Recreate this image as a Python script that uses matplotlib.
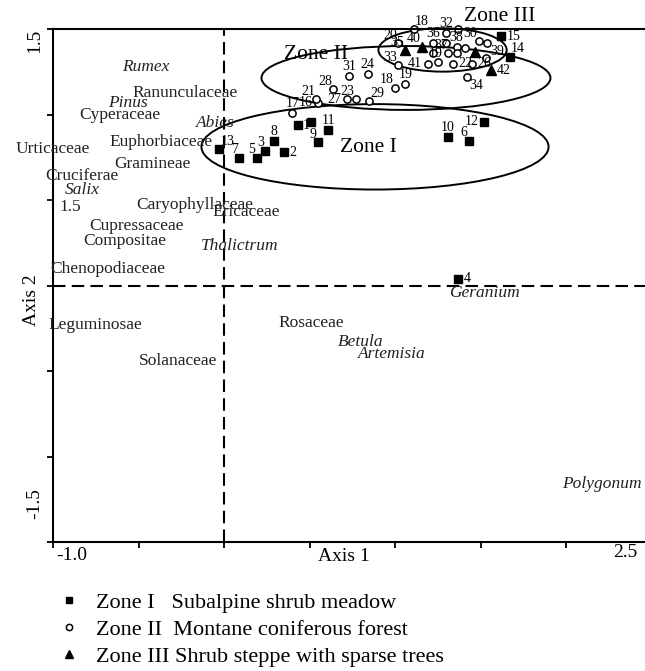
import matplotlib
matplotlib.use('Agg')
import matplotlib.pyplot as plt
from matplotlib.patches import Ellipse
from matplotlib.lines import Line2D

plt.rcParams['font.family'] = ['Liberation Serif', 'DejaVu Serif']

# species scores (Axis 1, Axis 2)
taxa = ['Rumex', 'Ranunculaceae', 'Pinus', 'Cyperaceae', 'Abies', 'Euphorbiaceae',
        'Urticaceae', 'Gramineae', 'Cruciferae', 'Salix', '1.5', 'Caryophyllaceae',
        'Ericaceae', 'Cupressaceae', 'Compositae', 'Thalictrum', 'Chenopodiaceae',
        'Leguminosae', 'Solanaceae', 'Rosaceae', 'Betula', 'Artemisia', 'Geranium',
        'Polygonum']
taxa_x = [-0.46, -0.23, -0.56, -0.61, -0.05, -0.37, -1.00, -0.42, -0.83, -0.83, -0.90,
          -0.17, 0.13, -0.51, -0.58, 0.09, -0.68, -0.75, -0.27, 0.51, 0.80, 0.98,
          1.52, 2.21]
taxa_y = [1.28, 1.13, 1.07, 1.00, 0.95, 0.84, 0.80, 0.71, 0.64, 0.56, 0.46, 0.47,
          0.43, 0.35, 0.26, 0.23, 0.10, -0.23, -0.44, -0.22, -0.33, -0.40, -0.04, -1.16]
italic_taxa = ['Rumex', 'Pinus', 'Abies', 'Salix', 'Thalictrum', 'Betula',
               'Artemisia', 'Geranium', 'Polygonum']

# samples, zone I (squares)
sq_lab = ['1', '', '11', '9', '8', '3', '2', '5', '7', '13', '10', '6', '12', '4', '15', '14']
sq_x = [0.43, 0.51, 0.61, 0.55, 0.29, 0.24, 0.35, 0.19, 0.09, -0.03, 1.31, 1.43,
        1.52, 1.37, 1.62, 1.67]
sq_y = [0.94, 0.96, 0.91, 0.84, 0.85, 0.79, 0.78, 0.75, 0.75, 0.80, 0.87, 0.85,
        0.96, 0.04, 1.46, 1.34]

# samples, zone II (circles)
ci_lab = ['17', '16', '21', '28', '27', '23', '29', '31', '24', '18', '19', '34', '33',
          '20', '18', '36', '32', '', '38', '', '37', '19', '', '30', '39', '41', '',
          '22', '26', '', '']
ci_x = [0.40, 0.55, 0.54, 0.64, 0.72, 0.77, 0.85, 0.73, 0.84, 1.00, 1.06, 1.42, 1.02,
        1.02, 1.11, 1.22, 1.30, 1.37, 1.36, 1.41, 1.22, 1.31, 1.36, 1.49, 1.54, 1.19,
        1.25, 1.34, 1.45, 1.53, 1.30]
ci_y = [1.01, 1.07, 1.09, 1.15, 1.09, 1.09, 1.08, 1.23, 1.24, 1.16, 1.18, 1.22, 1.29,
        1.42, 1.50, 1.42, 1.48, 1.50, 1.40, 1.39, 1.36, 1.36, 1.36, 1.43, 1.42, 1.30,
        1.31, 1.30, 1.30, 1.33, 1.42]

# samples, zone III (triangles)
tr_lab = ['35', '40', '', '42']
tr_x = [1.06, 1.16, 1.47, 1.56]
tr_y = [1.38, 1.40, 1.37, 1.26]

# label placement codes for the sample numbers
sq_pos = ['r', '', 'u', 'ul', 'u', 'ul', 'r', 'ul', 'ul', 'ur', 'u', 'ul', 'l', 'r', 'r', 'ur']
ci_pos = ['u', 'l', 'ul', 'ul', 'l', 'ul', 'ur', 'u', 'u', 'ul', 'u', 'dr', 'ul',
          'ul', 'ur', 'u', 'u', '', 'u', '', 'ur', 'l', '', 'ul', 'dr', 'l', '',
          'r', 'r', '', '']
tr_pos = ['ul', 'ul', '', 'r']
offs = {'u': ((0, 2), 'center', 'bottom'), 'ul': ((-1, 1), 'right', 'bottom'),
        'ur': ((1, 1), 'left', 'bottom'), 'r': ((4, 0), 'left', 'center'),
        'l': ((-4, 0), 'right', 'center'), 'dr': ((2, -1), 'left', 'top')}

fig = plt.figure(figsize=(6.45, 6.71), dpi=100)
ax = fig.add_axes([0.0822, 0.1923, 0.9279, 0.7638])
ax.set_xlim(-1.0, 2.5)
ax.set_ylim(-1.5, 1.5)
ax.spines['right'].set_visible(False)
for s in ['left', 'top', 'bottom']:
    ax.spines[s].set_linewidth(1.5)
ax.set_xticks([-1.0, -0.5, 0, 0.5, 1.0, 1.5, 2.0, 2.5])
ax.set_yticks([-1.5, -1.0, -0.5, 0, 0.5, 1.0, 1.5])
ax.tick_params(direction='out', length=4, width=1.3, labelbottom=False, labelleft=False)

ax.axvline(0, color='k', lw=1.5, ls=(0, (6, 3)))
ax.axhline(0, color='k', lw=1.5, ls=(0, (6, 3)))

# zone ellipses
ax.add_patch(Ellipse((0.883, 0.813), 2.03, 0.50, fill=False, lw=1.4, ec='k'))
ax.add_patch(Ellipse((1.064, 1.216), 1.69, 0.374, fill=False, lw=1.4, ec='k'))
ax.add_patch(Ellipse((1.278, 1.38), 0.75, 0.254, fill=False, lw=1.4, ec='k', clip_on=False))
ax.text(0.842, 0.807, 'Zone I', fontsize=15.5, ha='center', va='center')
ax.text(0.538, 1.351, 'Zone II', fontsize=15.5, ha='center', va='center')
ax.text(1.614, 1.573, 'Zone III', fontsize=15.5, ha='center', va='center', clip_on=False)

for t, x, y in zip(taxa, taxa_x, taxa_y):
    st = 'italic' if t in italic_taxa else 'normal'
    ax.text(x, y, t, fontsize=12.5, style=st, ha='center', va='center', color='#222222')

ax.plot(sq_x, sq_y, 's', color='k', ms=5.8, clip_on=False)
ax.plot(ci_x, ci_y, 'o', mfc='white', mec='k', mew=1.1, ms=5.2, clip_on=False)
ax.plot(tr_x, tr_y, '^', color='k', ms=6.5, clip_on=False)

for labs, xs, ys, pos in [(sq_lab, sq_x, sq_y, sq_pos), (ci_lab, ci_x, ci_y, ci_pos),
                          (tr_lab, tr_x, tr_y, tr_pos)]:
    for l, x, y, p in zip(labs, xs, ys, pos):
        if l == '':
            continue
        d, ha, va = offs[p]
        ax.annotate(l, (x, y), xytext=d, textcoords='offset points', fontsize=10,
                    ha=ha, va=va, annotation_clip=False)

# tick labels and axis titles
fig.text(0.1116, 0.1714, '-1.0', fontsize=14, ha='center', va='center')
fig.text(0.969, 0.1759, '2.5', fontsize=14, ha='center', va='center')
fig.text(0.0543, 0.9389, '1.5', fontsize=14, ha='center', va='center', rotation=90)
fig.text(0.0543, 0.2489, '-1.5', fontsize=14, ha='center', va='center', rotation=90)
fig.text(0.533, 0.171, 'Axis 1', fontsize=14, ha='center', va='center')
fig.text(0.0496, 0.553, 'Axis 2', fontsize=14, ha='center', va='center', rotation=90)

handles = [Line2D([], [], marker='s', ls='none', color='k', ms=5),
           Line2D([], [], marker='o', ls='none', mfc='white', mec='k', mew=1.1, ms=4.5),
           Line2D([], [], marker='^', ls='none', color='k', ms=5.5)]
labels = ['Zone I   Subalpine shrub meadow', 'Zone II  Montane coniferous forest',
          'Zone III Shrub steppe with sparse trees']
fig.legend(handles, labels, loc='upper left', bbox_to_anchor=(0.093, 0.1167),
           bbox_transform=fig.transFigure, frameon=False, fontsize=16,
           handlelength=0.8, handletextpad=0.8, labelspacing=0.29,
           borderpad=0, borderaxespad=0)

fig.savefig('out.png', dpi=100)
